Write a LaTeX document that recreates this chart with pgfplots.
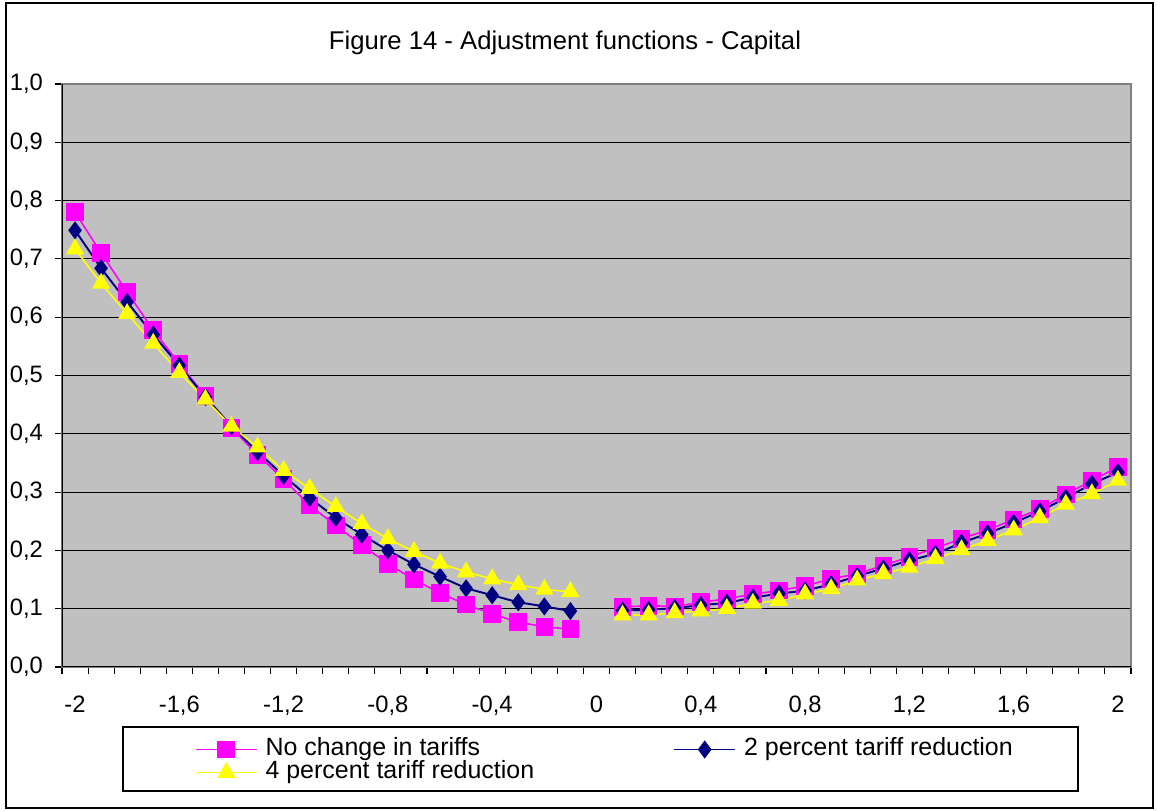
\documentclass[border=0pt]{standalone}
\usepackage{fontspec}
\setmainfont{Liberation Sans}
\usepackage{pgfplots}
\usepackage{pgfplotstable}
\pgfplotsset{compat=1.18}
\definecolor{plotgray}{HTML}{C0C0C0}
\definecolor{framegray}{HTML}{808080}
\definecolor{nochange}{HTML}{FF00FF}
\definecolor{twopct}{HTML}{000080}
\definecolor{fourpct}{HTML}{FFFF00}

% x = shock, a = no change, b = 2 percent, c = 4 percent
\pgfplotstableread{
x     a      b      c
-2.0  0.780  0.749  0.717
-1.9  0.710  0.684  0.658
-1.8  0.643  0.626  0.606
-1.7  0.578  0.570  0.555
-1.6  0.520  0.517  0.505
-1.5  0.465  0.463  0.459
-1.4  0.410  0.413  0.413
-1.3  0.364  0.369  0.377
-1.2  0.322  0.328  0.337
-1.1  0.277  0.290  0.306
-1.0  0.243  0.256  0.275
-0.9  0.209  0.227  0.246
-0.8  0.177  0.200  0.220
-0.7  0.150  0.176  0.198
-0.6  0.127  0.155  0.178
-0.5  0.107  0.135  0.163
-0.4  0.091  0.123  0.151
-0.3  0.077  0.111  0.141
-0.2  0.069  0.104  0.133
-0.1  0.065  0.096  0.129
0.0   nan    nan    nan
0.1   0.103  0.097  0.089
0.2   0.105  0.098  0.089
0.3   0.104  0.101  0.093
0.4   0.111  0.106  0.096
0.5   0.117  0.110  0.100
0.6   0.125  0.119  0.109
0.7   0.131  0.126  0.114
0.8   0.139  0.131  0.125
0.9   0.151  0.142  0.134
1.0   0.160  0.156  0.149
1.1   0.174  0.169  0.160
1.2   0.189  0.183  0.171
1.3   0.204  0.194  0.186
1.4   0.220  0.213  0.201
1.5   0.235  0.229  0.217
1.6   0.253  0.247  0.235
1.7   0.271  0.267  0.256
1.8   0.296  0.290  0.279
1.9   0.320  0.314  0.297
2.0   0.343  0.334  0.320
}\capital

\begin{document}
\begin{tikzpicture}
  % page and chart frame
  \fill[white] (0,0) rectangle (23.14cm,16.22cm);
  \draw[black, line width=0.6pt] (0.12cm,0.06cm) rectangle (23.06cm,16.16cm);
  \node[font=\fontsize{14.6}{17}\selectfont] at (11.3cm,15.36cm)
    {Figure 14 - Adjustment functions - Capital};
  % legend frame
  \draw[black, line width=0.6pt, fill=white] (2.46cm,0.40cm) rectangle (21.56cm,1.68cm);

  \begin{axis}[
    at={(1.24cm,2.88cm)}, anchor=south west,
    scale only axis,
    width=21.38cm, height=11.66cm,
    xmin=-2.05, xmax=2.05,
    ymin=0, ymax=1,
    axis background/.style={fill=plotgray},
    axis line style={draw=framegray, line width=0.8pt},
    unbounded coords=jump,
    ytick={0,0.1,0.2,0.3,0.4,0.5,0.6,0.7,0.8,0.9,1},
    yticklabels={{0,0},{0,1},{0,2},{0,3},{0,4},{0,5},{0,6},{0,7},{0,8},{0,9},{1,0}},
    xtick={-2.05,-1.95,-1.85,-1.75,-1.65,-1.55,-1.45,-1.35,-1.25,-1.15,-1.05,
           -0.95,-0.85,-0.75,-0.65,-0.55,-0.45,-0.35,-0.25,-0.15,-0.05,
           0.05,0.15,0.25,0.35,0.45,0.55,0.65,0.75,0.85,0.95,
           1.05,1.15,1.25,1.35,1.45,1.55,1.65,1.75,1.85,1.95,2.05},
    xticklabels={-2,,,,{-1,6},,,,{-1,2},,,,{-0,8},,,,{-0,4},,,,0,,,,
                 {0,4},,,,{0,8},,,,{1,2},,,,{1,6},,,,2,},
    /pgf/number format/assume math mode=true,
    tick pos=left,
    ymajorgrids,
    major grid style={black, line width=0.6pt},
    tick align=outside,
    major tick length=0.14cm,
    tick style={black, line width=0.6pt},
    ticklabel style={font=\fontsize{13.5}{16}\selectfont},
    xticklabel style={anchor=north, xshift=0.26cm, yshift=-0.32cm},
    yticklabel style={anchor=east, xshift=-0.12cm},
    legend columns=2,
    legend cell align=left,
    legend style={
      at={(axis description cs:0.1244,-0.1218)}, anchor=north west,
      draw=none, fill=none, inner sep=0pt, outer sep=0pt,
      font=\fontsize{14.2}{17}\selectfont,
      nodes={inner sep=0pt, text height=0.34cm, text depth=0.12cm},
      row sep=0pt,
      /tikz/every odd column/.append style={column sep=0.16cm},
      /tikz/every even column/.append style={column sep=2.78cm},
    },
    legend image code/.code={
      \draw[mark repeat=2, mark phase=2]
        plot coordinates {(0cm,0cm) (0.61cm,0cm) (1.22cm,0cm)};
    },
  ]
    \addplot[nochange, line width=0.9pt, mark=square*, mark size=0.16cm,
             mark options={solid, fill=nochange, draw=nochange}]
      table[x=x, y=a] {\capital};
    \addplot[twopct, line width=1.1pt, mark=diamond*, mark size=0.15cm,
             mark options={solid, fill=twopct, draw=twopct}]
      table[x=x, y=b] {\capital};
    \addplot[fourpct, line width=0.9pt, mark=triangle*, mark size=0.18cm,
             mark options={solid, fill=fourpct, draw=fourpct}]
      table[x=x, y=c] {\capital};
    \legend{No change in tariffs, 2 percent tariff reduction, 4 percent tariff reduction}
    \draw[black, line width=0.8pt] (rel axis cs:0,1) -- (rel axis cs:0,0) -- (rel axis cs:1,0);
  \end{axis}
\end{tikzpicture}
\end{document}
